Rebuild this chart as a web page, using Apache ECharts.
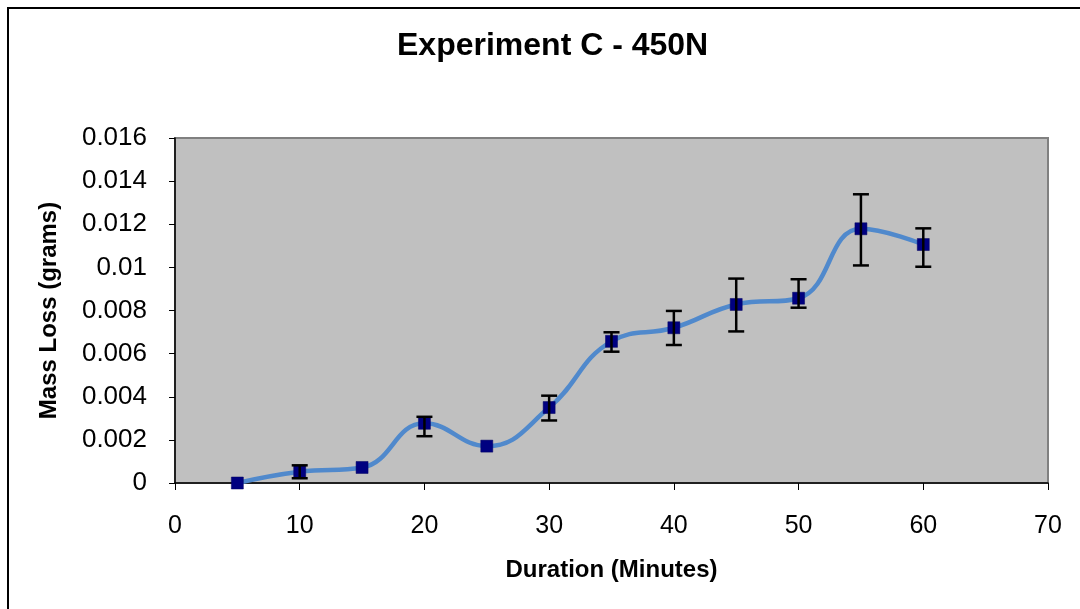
<!DOCTYPE html>
<html>
<head>
<meta charset="utf-8">
<title>Experiment C - 450N</title>
<script src="https://cdn.jsdelivr.net/npm/echarts@6/dist/echarts.min.js"></script>
<style>
  html, body { margin: 0; padding: 0; background: #ffffff; }
  #chart { width: 1080px; height: 609px; }
</style>
</head>
<body>
<div id="chart"></div>
<script>
// Duration in minutes and mean mass loss in grams
const durations = [5, 10, 15, 20, 25, 30, 35, 40, 45, 50, 55, 60];
const massLoss  = [0, 0.00052, 0.00072, 0.00277, 0.00171, 0.0035, 0.00657, 0.0072, 0.00828, 0.00857, 0.01179, 0.01106];
// Upper and lower error amounts (grams)
const errPlus   = [0, 0.0003, 0, 0.0003, 0, 0.00055, 0.00042, 0.00078, 0.0012, 0.00088, 0.0016, 0.00075];
const errMinus  = [0, 0.0003, 0, 0.0006, 0, 0.0006, 0.00048, 0.0008, 0.00125, 0.00044, 0.0017, 0.00103];
// Axis tick values
const xTicks = [0, 10, 20, 30, 40, 50, 60, 70];
const yTicks = [0, 0.002, 0.004, 0.006, 0.008, 0.01, 0.012, 0.014, 0.016];

const FONT = '"Liberation Sans", Arial, sans-serif';

const pointData = durations.map((d, i) => [d, massLoss[i]]);
const errorData = durations.map((d, i) => [d, massLoss[i] + errPlus[i], massLoss[i] - errMinus[i]]);

const chart = echarts.init(document.getElementById('chart'), null, { renderer: 'canvas' });

chart.setOption({
  backgroundColor: '#ffffff',
  animation: false,
  title: {
    text: 'Experiment C - 450N',
    left: 397,
    top: 30,
    padding: 0,
    textStyle: { fontFamily: FONT, fontSize: 32, fontWeight: 'bold', color: '#000000' }
  },
  graphic: [{
    type: 'rect',
    shape: { x: 8, y: 8, width: 1200, height: 800 },
    style: { fill: 'none', stroke: '#000000', lineWidth: 2 },
    silent: true
  }],
  grid: {
    left: 175, right: 32, top: 138, bottom: 126,
    show: true,
    backgroundColor: '#c0c0c0',
    borderColor: '#808080',
    borderWidth: 2
  },
  xAxis: {
    type: 'value',
    min: xTicks[0],
    max: xTicks[xTicks.length - 1],
    interval: 10,
    name: 'Duration (Minutes)',
    nameLocation: 'middle',
    nameGap: 75,
    nameTextStyle: { fontFamily: FONT, fontSize: 24, fontWeight: 'bold', color: '#000000' },
    axisLine: { show: true, onZero: false, lineStyle: { color: '#000000', width: 1.5 } },
    axisTick: { show: true, length: 7, lineStyle: { color: '#000000' } },
    axisLabel: { fontFamily: FONT, fontSize: 25, color: '#000000', margin: 31 },
    splitLine: { show: false }
  },
  yAxis: {
    type: 'value',
    min: yTicks[0],
    max: yTicks[yTicks.length - 1],
    interval: 0.002,
    name: 'Mass Loss (grams)',
    nameLocation: 'middle',
    nameGap: 114,
    nameTextStyle: { fontFamily: FONT, fontSize: 24, fontWeight: 'bold', color: '#000000' },
    axisLine: { show: true, lineStyle: { color: '#000000', width: 1.5 } },
    axisTick: { show: true, length: 6, lineStyle: { color: '#000000' } },
    axisLabel: {
      fontFamily: FONT, fontSize: 26, color: '#000000', margin: 28,
      formatter: v => String(+v.toFixed(3))
    },
    splitLine: { show: false }
  },
  series: [
    {
      name: 'Mass Loss',
      type: 'line',
      data: pointData,
      smooth: 0.45,
      symbol: 'rect',
      symbolSize: 12,
      z: 3,
      lineStyle: { color: '#5089cc', width: 4.5 },
      itemStyle: { color: '#000080', borderColor: '#000060', borderWidth: 0.5 }
    },
    {
      name: 'Error',
      type: 'custom',
      data: errorData,
      z: 4,
      renderItem: function (params, api) {
        const x = api.value(0);
        const hi = api.value(1);
        const lo = api.value(2);
        if (hi === lo) return null;
        const top = api.coord([x, hi]);
        const bot = api.coord([x, lo]);
        const cap = 8;
        const style = { stroke: '#000000', lineWidth: 2.5 };
        return {
          type: 'group',
          children: [
            { type: 'line', shape: { x1: top[0], y1: top[1], x2: bot[0], y2: bot[1] }, style: style },
            { type: 'line', shape: { x1: top[0] - cap, y1: top[1], x2: top[0] + cap, y2: top[1] }, style: style },
            { type: 'line', shape: { x1: bot[0] - cap, y1: bot[1], x2: bot[0] + cap, y2: bot[1] }, style: style }
          ]
        };
      }
    }
  ]
});
</script>
</body>
</html>
